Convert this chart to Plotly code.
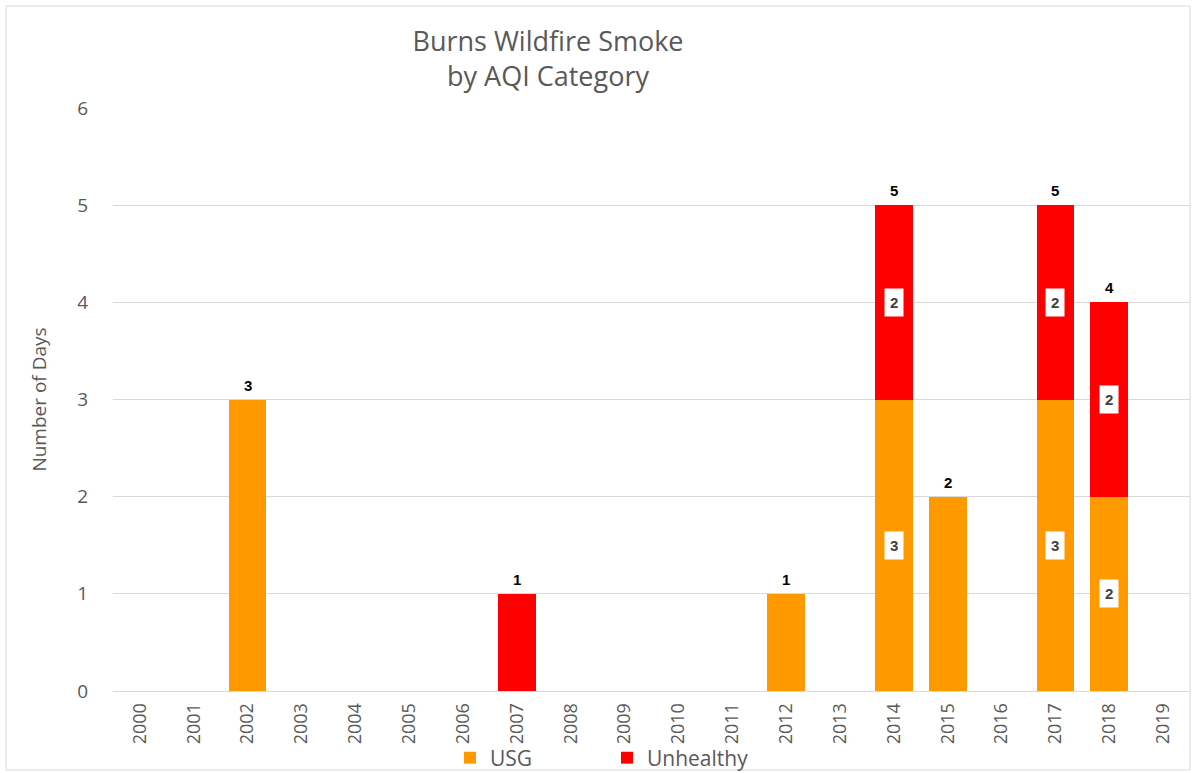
import plotly.graph_objects as go

years = [str(y) for y in range(2000, 2020)]
usg = [0, 0, 3, 0, 0, 0, 0, 0, 0, 0, 0, 0, 1, 0, 3, 2, 0, 3, 2, 0]
unhealthy = [0, 0, 0, 0, 0, 0, 0, 1, 0, 0, 0, 0, 0, 0, 2, 0, 0, 2, 2, 0]
series_names = ["USG", "Unhealthy"]
series_colors = ["#FF9900", "#FF0000"]

W, H = 1194, 773
L, R, T, B = 113, 1190, 108, 691

fig = go.Figure()
for name, vals, col in zip(series_names, [usg, unhealthy], series_colors):
    fig.add_trace(go.Bar(
        x=years, y=vals, name=name, marker_color=col,
        marker_line_width=0, width=0.7,
    ))

annotations = []
totals = [a + b for a, b in zip(usg, unhealthy)]
for i, (a, b, t) in enumerate(zip(usg, unhealthy, totals)):
    if t > 0:
        annotations.append(dict(x=i, y=t, text="<b>%d</b>" % t, showarrow=False,
                                yanchor="bottom", yshift=4,
                                font=dict(family="Arial", size=15, color="#000000")))
    if a > 0 and b > 0:
        annotations.append(dict(x=i, y=a / 2, text="<b>%d</b>" % a, showarrow=False,
                                bgcolor="#FFFFFF", borderpad=5,
                                font=dict(family="Arial", size=15, color="#404040")))
        annotations.append(dict(x=i, y=a + b / 2, text="<b>%d</b>" % b, showarrow=False,
                                bgcolor="#FFFFFF", borderpad=5,
                                font=dict(family="Arial", size=15, color="#404040")))

pw, ph = R - L, B - T
def px(x):
    return (x - L) / pw
def py(y):
    return (B - y) / ph

fig.update_layout(
    width=W, height=H,
    margin=dict(l=L, r=W - R, t=T, b=H - B, pad=0, autoexpand=False),
    barmode="stack",
    paper_bgcolor="white", plot_bgcolor="white",
    font=dict(family="Open Sans", color="#595959"),
    title=dict(text="Burns Wildfire Smoke<br>by AQI Category",
               x=548 / W, xanchor="center", y=1 - 51 / H, yanchor="middle",
               font=dict(family="Open Sans", size=27, color="#595959")),
    xaxis=dict(type="category", tickangle=-90, showgrid=False,
               range=[-0.5, len(years) - 0.5],
               showline=True, linecolor="#D9D9D9", linewidth=1,
               ticks="", ticklabelstandoff=4,
               tickfont=dict(family="Open Sans", size=18, color="#595959")),
    yaxis=dict(range=[0, 6], dtick=1, showgrid=True, gridcolor="#D9D9D9",
               zeroline=False, ticks="", ticklabelstandoff=24,
               tickfont=dict(family="Open Sans", size=19, color="#595959"),
               title=dict(text="Number of Days", standoff=25,
                          font=dict(family="Open Sans", size=19, color="#595959"))),
    legend=dict(orientation="h", traceorder="normal",
                x=px(607), xanchor="center", y=py(758), yanchor="middle",
                font=dict(family="Open Sans", size=21, color="#595959"),
                entrywidth=112, itemwidth=30, bgcolor="rgba(0,0,0,0)"),
    annotations=annotations,
    shapes=[dict(type="rect", xref="paper", yref="paper",
                 x0=px(6), x1=px(1190), y0=py(770), y1=py(6),
                 line=dict(color="#D9D9D9", width=1), fillcolor="rgba(0,0,0,0)",
                 layer="below")],
)

fig.write_html("out.html", config={"displayModeBar": False},
               post_script="document.body.style.margin='0';document.body.style.padding='0';")
